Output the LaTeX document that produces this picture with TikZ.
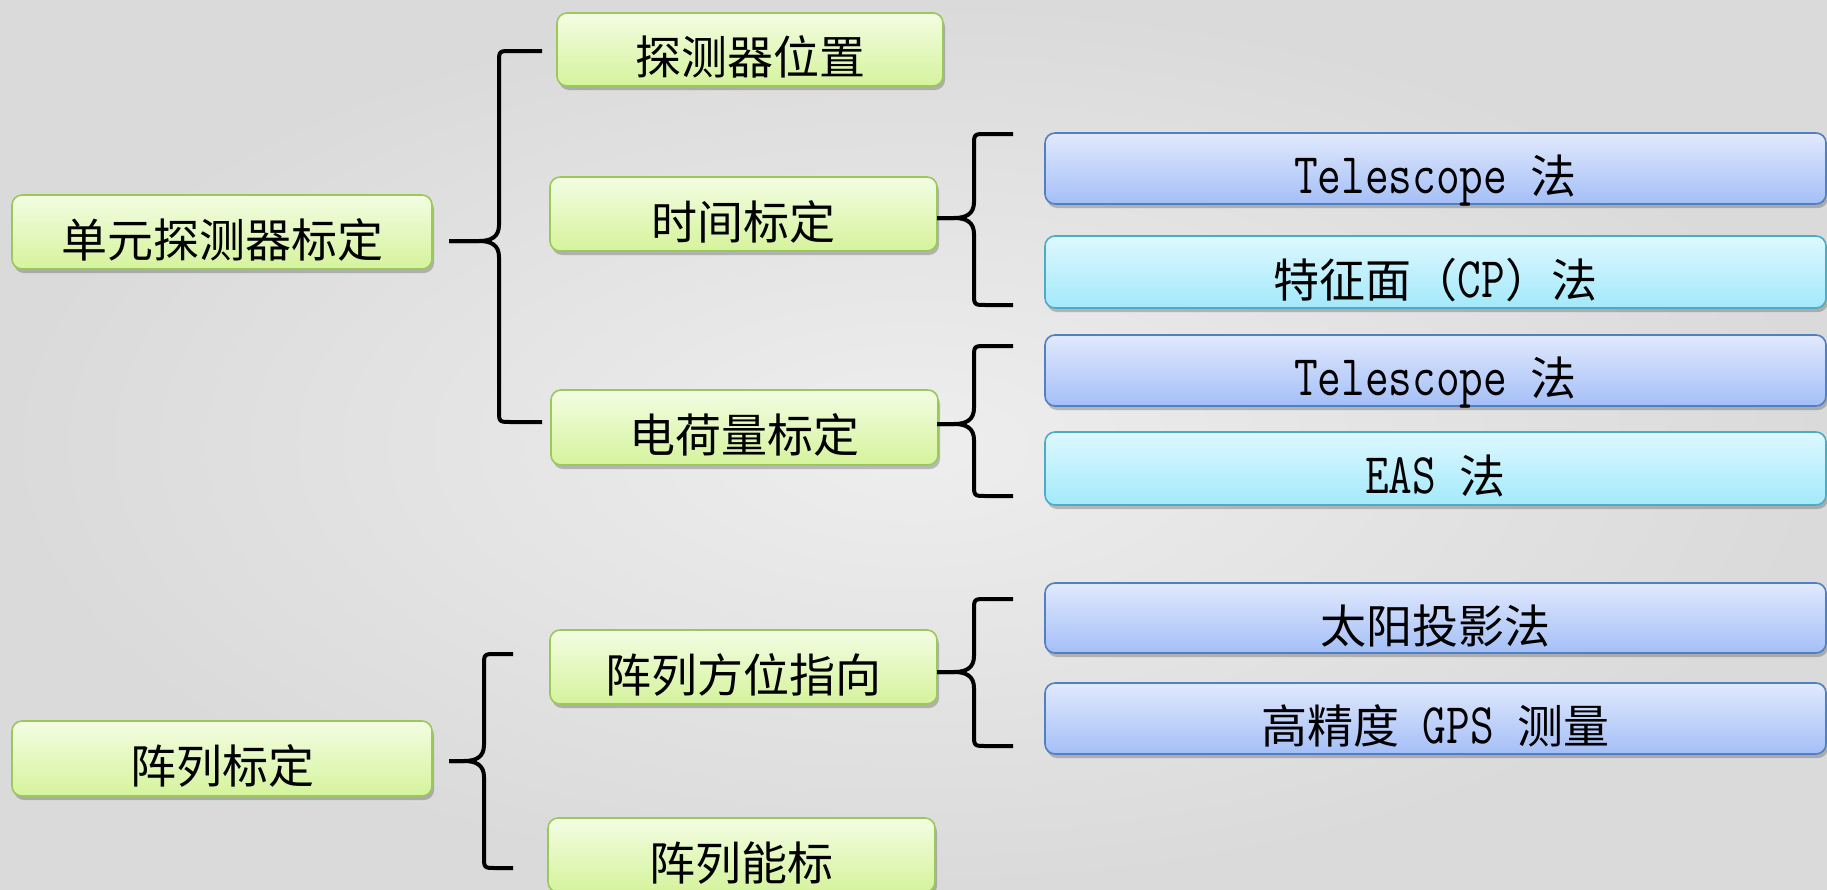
\documentclass[tikz,border=0pt]{standalone}
\usepackage{fontspec}
\usepackage{graphicx}
\setmainfont{Noto Sans CJK SC}
\usetikzlibrary{shadows}
\definecolor{bgIn}{HTML}{EEEEEE}
\definecolor{bgOut}{HTML}{DADADA}
\definecolor{greenTop}{HTML}{F3FDE3}
\definecolor{greenBot}{HTML}{D5F39C}
\definecolor{greenBorder}{HTML}{9BC85A}
\definecolor{blueTop}{HTML}{E1E9FD}
\definecolor{blueBot}{HTML}{A4BFF7}
\definecolor{blueBorder}{HTML}{4F7FC4}
\definecolor{cyanTop}{HTML}{DEF8FF}
\definecolor{cyanBot}{HTML}{A3E9FB}
\definecolor{cyanBorder}{HTML}{4AACC6}
\newcommand\latx[1]{\scalebox{1}[1.25]{\ttfamily\relax#1}}
\tikzset{
  basebox/.style={line width=1.6pt, rounded corners=10pt, inner sep=0pt,
    font=\fontsize{46}{46}\selectfont, text=black,
    text height=54pt, text depth=4pt,
    drop shadow={shadow xshift=2pt, shadow yshift=-4pt, opacity=0.22, fill=black}},
  gbox/.style={basebox, draw=greenBorder, top color=greenTop, bottom color=greenBot,
    minimum width=387pt, minimum height=74pt},
  bbox/.style={basebox, draw=blueBorder, top color=blueTop, bottom color=blueBot,
    minimum width=781pt, minimum height=71pt},
  cbox/.style={basebox, draw=cyanBorder, top color=cyanTop, bottom color=cyanBot,
    minimum width=781pt, minimum height=72pt},
  bracestyle/.style={draw=black, line width=4pt, line join=round}
}
% name, tipx, tipy, vx, endx, topy, boty
\newcommand\drawbrace[7]{%
  \coordinate (#1tip) at (#2,#3);
  \coordinate (#1top) at (#5,#6);
  \coordinate (#1bot) at (#5,#7);
  \draw[bracestyle] (#1top) -- (#4+12,#6) .. controls (#4,#6) .. (#4,#6+12)
    -- (#4,#3-16) .. controls (#4,#3-4) and (#4-8,#3) .. (#4-20,#3) -- (#1tip);
  \draw[bracestyle] (#1tip) -- (#4-20,#3) .. controls (#4-8,#3) and (#4,#3+4) .. (#4,#3+16)
    -- (#4,#7-12) .. controls (#4,#7) .. (#4+12,#7) -- (#1bot);
}
\begin{document}
\begin{tikzpicture}[x=1pt,y=-1pt]
\useasboundingbox (0,0) rectangle (1827,889);
\shade[inner color=bgIn, outer color=bgOut] (0,0) rectangle (1827,889);

\node[gbox, minimum width=420pt] (unit) at (222,232) {单元探测器标定};
\node[gbox, minimum width=386pt, minimum height=73pt] (pos) at (750,49.5) {探测器位置};
\node[gbox] (time) at (743.5,214) {时间标定};
\node[gbox, minimum height=75pt] (charge) at (744.5,427.5) {电荷量标定};
\node[gbox] (orient) at (743.5,667) {阵列方位指向};
\node[gbox, minimum width=420pt, minimum height=75pt] (array) at (222,758.5) {阵列标定};
\node[gbox] (energy) at (741.5,855) {阵列能标};

\node[bbox] (tel1) at (1435.5,168.5) {\latx{Telescope }法};
\node[cbox] (cp) at (1435.5,272) {特征面（\latx{CP}）法};
\node[bbox] (tel2) at (1435.5,370.5) {\latx{Telescope }法};
\node[cbox, minimum height=73pt] (eas) at (1435.5,468.5) {\latx{EAS }法};
\node[bbox, minimum height=70pt] (sun) at (1435.5,618) {太阳投影法};
\node[bbox] (gps) at (1435.5,718.5) {高精度\latx{ GPS }测量};

\drawbrace{b1}{449}{241}{499}{542}{51}{422}
\drawbrace{b2}{937}{218}{974}{1013}{134}{305}
\drawbrace{b3}{937}{424}{974}{1013}{346}{496}
\drawbrace{b4}{937}{672}{974}{1013}{599}{746}
\drawbrace{b5}{449}{761}{484}{513}{654}{868}
\end{tikzpicture}
\end{document}
